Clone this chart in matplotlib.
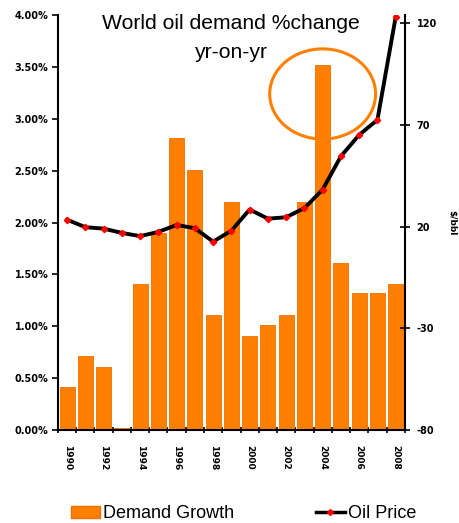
import matplotlib
matplotlib.use("Agg")
import matplotlib.pyplot as plt
from matplotlib.lines import Line2D
from matplotlib.patches import Patch, Ellipse
import numpy as np

plt.rcParams['font.family'] = ['Liberation Sans', 'DejaVu Sans']

# data
years = [1990, 1991, 1992, 1993, 1994, 1995, 1996, 1997, 1998, 1999,
         2000, 2001, 2002, 2003, 2004, 2005, 2006, 2007, 2008]
demand_growth = [0.41, 0.71, 0.61, 0.02, 1.41, 1.90, 2.82, 2.51, 1.11, 2.20,
                 0.91, 1.01, 1.11, 2.20, 3.52, 1.61, 1.32, 1.32, 1.41]
oil_price = [23.4, 19.7, 19.0, 16.9, 15.3, 17.4, 20.8, 19.2, 12.6, 18.0,
             28.4, 23.9, 24.6, 29.1, 38.2, 54.6, 65.1, 72.5, 123.1]
left_ticks = [0.0, 0.5, 1.0, 1.5, 2.0, 2.5, 3.0, 3.5, 4.0]
right_ticks = [-80, -30, 20, 70, 120]
year_labels = [str(y) for y in years[::2]]

ORANGE = '#ff8000'
TICK_FONT = dict(family='DejaVu Sans', fontweight='bold')

fig = plt.figure(figsize=(4.6, 5.23), dpi=100)
ax = fig.add_axes([0.126, 0.178, 0.754, 0.793])
x = np.arange(len(years))

ax.bar(x, demand_growth, width=0.82, color=ORANGE, edgecolor='#f07000', linewidth=0.6, zorder=2)
ax.set_xlim(-0.5, len(years) - 0.5)
ax.set_ylim(0, 4.0)
ax.set_yticks(left_ticks)
ax.set_yticklabels([f"{v:.2f}%" for v in left_ticks], fontsize=7, **TICK_FONT)
ax.set_xticks(x[::2])
ax.set_xticklabels(year_labels, rotation=270, fontsize=6.5, **TICK_FONT)
ax.set_xticks(np.arange(len(years) + 1) - 0.5, minor=True)
ax.tick_params(axis='x', which='major', length=0, pad=11)
ax.tick_params(axis='x', which='minor', length=4, width=1.2, direction='inout')
ax.tick_params(axis='y', length=4, width=1.2, direction='out', pad=3)
for side in ['top', 'right']:
    ax.spines[side].set_visible(False)
for side in ['left', 'bottom']:
    ax.spines[side].set_linewidth(1.5)

ax2 = ax.twinx()
ax2.plot(x, oil_price, color='black', linewidth=2.8, zorder=3,
         marker='D', markersize=3.2, markerfacecolor='red', markeredgecolor='red')
ax2.set_ylim(-80, 124)
ax2.set_yticks(right_ticks)
ax2.set_yticklabels([str(v) for v in right_ticks], fontsize=7, **TICK_FONT)
ax2.tick_params(axis='y', length=7, width=1.2, direction='inout', pad=5)
ax2.set_ylabel('$/bbl', rotation=270, fontsize=6.5, labelpad=14, **TICK_FONT)
for side in ['top', 'left', 'bottom']:
    ax2.spines[side].set_visible(False)
ax2.spines['right'].set_linewidth(1.5)

# highlight circle around 2004
ax.add_patch(Ellipse((14, 3.24), 5.8, 0.87, fill=False, edgecolor=ORANGE,
                     linewidth=2.2, zorder=4, clip_on=False))

# two-line title
fig.text(0.502, 0.956, 'World oil demand %change', ha='center', va='center', fontsize=15.2)
fig.text(0.502, 0.899, 'yr-on-yr', ha='center', va='center', fontsize=15.2)

handles = [Patch(facecolor=ORANGE, edgecolor='#f07000'),
           Line2D([0], [0], color='black', linewidth=2.5, marker='D', markersize=3,
                  markerfacecolor='red', markeredgecolor='red')]
fig.legend(handles, ['Demand Growth', 'Oil Price'], loc='lower center',
           bbox_to_anchor=(0.53, -0.03), ncol=2, frameon=False, fontsize=13,
           columnspacing=4.5, handlelength=1.6, handletextpad=0.2)

fig.savefig('out.png', dpi=100)
